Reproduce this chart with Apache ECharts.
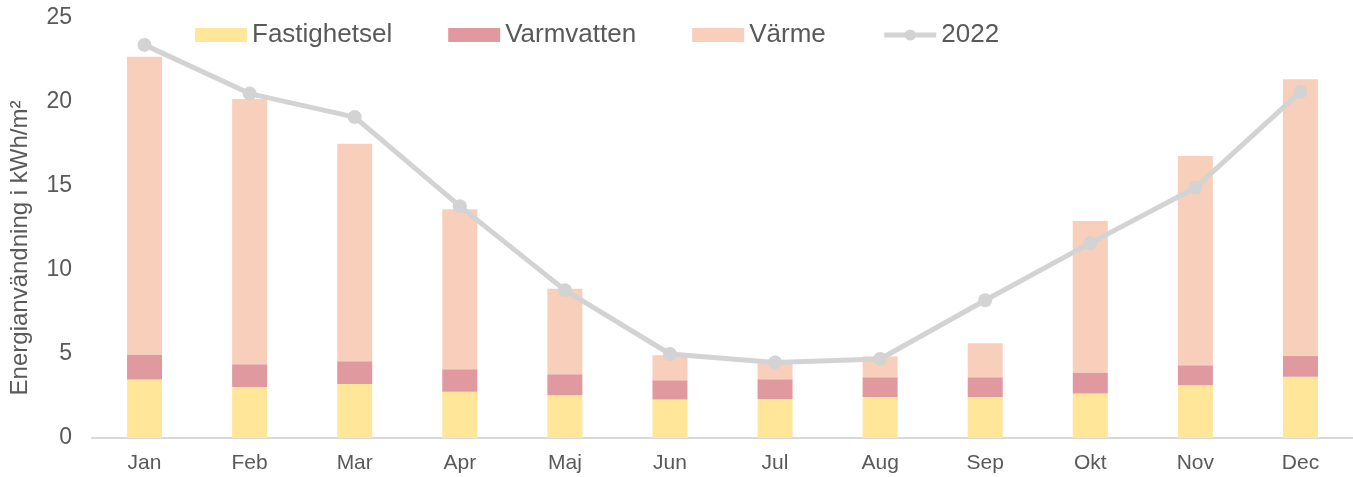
<!DOCTYPE html>
<html>
<head>
<meta charset="utf-8">
<script src="https://cdn.jsdelivr.net/npm/echarts@6/dist/echarts.min.js"></script>
<style>
  html, body { margin: 0; padding: 0; background: #fff; }
  #chart { width: 1353px; height: 477px; }
</style>
</head>
<body>
<div id="chart"></div>
<script>
const months = ['Jan', 'Feb', 'Mar', 'Apr', 'Maj', 'Jun', 'Jul', 'Aug', 'Sep', 'Okt', 'Nov', 'Dec']
const fastighetsel = [3.48, 3.04, 3.22, 2.76, 2.54, 2.29, 2.32, 2.44, 2.44, 2.65, 3.14, 3.64]
const varmvatten = [1.49, 1.35, 1.35, 1.33, 1.26, 1.15, 1.18, 1.18, 1.18, 1.25, 1.19, 1.25]
const varme = [17.73, 15.79, 12.95, 9.52, 5.08, 1.49, 0.95, 1.23, 2.02, 9.01, 12.46, 16.47]
const total2022 = [23.4, 20.5, 19.1, 13.8, 8.8, 5.0, 4.5, 4.7, 8.2, 11.6, 14.9, 20.6]
const yTicks = [0, 5, 10, 15, 20, 25]

const chart = echarts.init(document.getElementById('chart'))
const font = 'Liberation Sans, Arial, sans-serif'

const barSeries = (name, data, color) => ({
  name,
  type: 'bar',
  stack: 'total',
  data,
  barWidth: 35,
  itemStyle: { color }
})

chart.setOption({
  animation: false,
  textStyle: { fontFamily: font },
  grid: { left: 92, right: -1, top: 18, bottom: 39 },
  legend: {
    left: 195,
    top: 22,
    padding: 0,
    itemWidth: 52,
    itemHeight: 14,
    itemGap: 56,
    textStyle: { fontSize: 26, color: '#595959', fontFamily: font },
    data: [
      { name: 'Fastighetsel', icon: 'rect' },
      { name: 'Varmvatten', icon: 'rect' },
      { name: 'Värme', icon: 'rect' },
      { name: '2022', lineStyle: { width: 5 } }
    ]
  },
  xAxis: {
    type: 'category',
    data: months,
    axisLine: { lineStyle: { color: '#D9D9D9', width: 2 } },
    axisTick: { show: false },
    axisLabel: { fontSize: 21, color: '#595959', margin: 15 }
  },
  yAxis: {
    type: 'value',
    min: yTicks[0],
    max: yTicks[yTicks.length - 1],
    interval: 5,
    name: 'Energianvändning i kWh/m²',
    nameLocation: 'middle',
    nameGap: 60,
    nameTextStyle: { fontSize: 24, color: '#595959', padding: [0, 40, 0, 0] },
    axisLine: { show: false },
    axisTick: { show: false },
    splitLine: { show: false },
    axisLabel: { fontSize: 23, color: '#595959', margin: 20 }
  },
  series: [
    barSeries('Fastighetsel', fastighetsel, '#FFE699'),
    barSeries('Varmvatten', varmvatten, '#E0999F'),
    barSeries('Värme', varme, '#F8CFBB'),
    {
      name: '2022',
      type: 'line',
      data: total2022,
      symbol: 'circle',
      symbolSize: 14,
      lineStyle: { color: '#D3D3D3', width: 5 },
      itemStyle: { color: '#D3D3D3' }
    }
  ]
})
</script>
</body>
</html>
